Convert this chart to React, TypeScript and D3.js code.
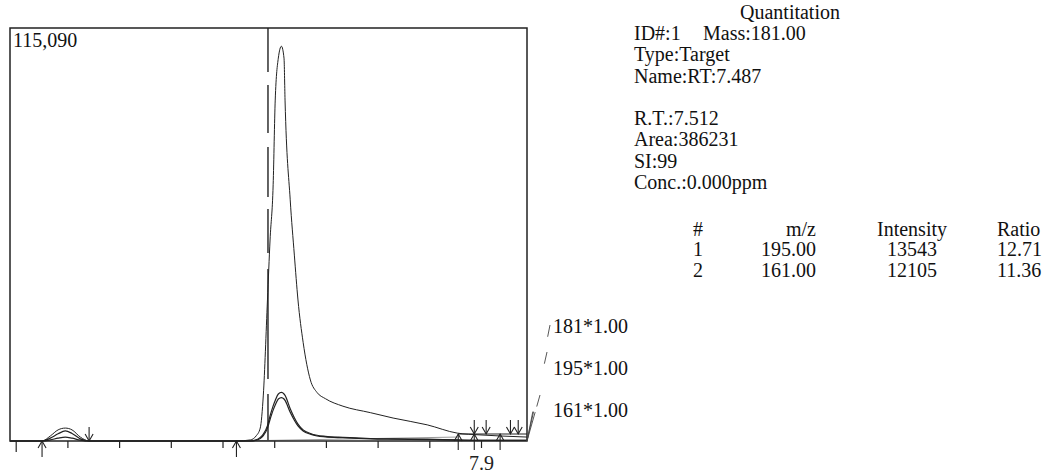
import React from "react";
import * as d3 from "d3";

// Retention times (min) shared by the three mass chromatograms
const times = [
  6.988, 7.027, 7.05, 7.066, 7.081, 7.095, 7.108, 7.124, 7.141, 7.201, 7.356,
  7.426, 7.453, 7.464, 7.472, 7.478, 7.486, 7.491, 7.497, 7.501, 7.507, 7.513,
  7.518, 7.52, 7.53, 7.538, 7.545, 7.555, 7.569, 7.582, 7.598, 7.632, 7.685,
  7.729, 7.795, 7.853, 7.897, 7.936, 7.988,
];

// m/z 181 (target ion)
const ion181 = [
  0, 0, 0, 1400, 3100, 3600, 3100, 1100, 0, 0, 0,
  0, 300, 1400, 3600, 12800, 39300, 56000, 71400, 95000, 106700, 110000,
  106700, 95000, 67200, 51800, 39300, 27500, 17000, 13500, 11800, 9700, 7900,
  6400, 4500, 2200, 1700, 1400, 1100,
];

// m/z 195 (reference ion 1)
const ion195 = [
  0, 0, 0, 800, 2000, 2800, 2100, 600, 0, 0, 0,
  0, 0, 300, 1000, 1900, 4300, 7000, 9800, 11300, 13100, 13543,
  13100, 12700, 9000, 6500, 4700, 3100, 2100, 1600, 1300, 1000, 700,
  600, 500, 300, 200, 200, 200,
];

// m/z 161 (reference ion 2)
const ion161 = [
  0, 0, 0, 300, 800, 1100, 800, 250, 0, 0, 0,
  0, 0, 200, 700, 1500, 3600, 6000, 8600, 10000, 11700, 12105,
  11700, 11300, 8000, 5800, 4200, 2800, 1900, 1400, 1150, 900, 600,
  500, 400, 250, 150, 150, 150,
];

const yMaxLabel = "115,090";
const yMax = 115090;
const xDomain = [6.988, 7.988];
const xTicks = [7.0, 7.1, 7.2, 7.3, 7.4, 7.5, 7.6, 7.7, 7.8, 7.9];
const xTickLabels = [{ t: 7.9, text: "7.9" }];
const expectedRT = 7.487;

// Integration start (up arrows) and end (down arrows) markers
const peakStarts = [
  { t: 7.05, level: 0 },
  { t: 7.426, level: 0 },
  { t: 7.855, level: 1950 },
  { t: 7.886, level: 1950 },
  { t: 7.936, level: 1950 },
];
const peakEnds = [
  { t: 7.141, level: 0 },
  { t: 7.886, level: 1950 },
  { t: 7.909, level: 1950 },
  { t: 7.956, level: 1950 },
  { t: 7.971, level: 1950 },
];
const integrationBaseline: [number, number][] = [
  [7.426, 0],
  [7.853, 1100],
];
const integrationBox: [number, number][] = [
  [7.855, 1950],
  [7.988, 1950],
];

const traceLabels = ["181*1.00", "195*1.00", "161*1.00"];

const infoLines = ["Type:Target", "Name:RT:7.487"];
const resultLines = ["R.T.:7.512", "Area:386231", "SI:99", "Conc.:0.000ppm"];

const tableHeader = ["#", "m/z", "Intensity", "Ratio"];
const tableRows = [
  ["1", "195.00", "13543", "12.71"],
  ["2", "161.00", "12105", "11.36"],
];

const FONT = "'Liberation Serif', 'Times New Roman', serif";

export default function App() {
  const left = 10;
  const right = 527;
  const top = 28;
  const bottom = 441;

  const x = d3.scaleLinear().domain(xDomain).range([left, right]);
  const y = d3.scaleLinear().domain([0, yMax]).range([bottom, top]);

  const line = d3
    .line<number>()
    .x((_, i) => x(times[i]))
    .y((d) => y(d))
    .curve(d3.curveMonotoneX);

  const segment = d3
    .line<[number, number]>()
    .x((d) => x(d[0]))
    .y((d) => y(d[1]));

  // leader lines from the lower-right corner to the trace labels
  const corner = [right, bottom];
  const leaderEnds = [
    [550, 325],
    [547, 352],
    [540, 395],
  ];

  const colX = [693, 816, 912, 997];
  const colAnchor = ["start", "end", "middle", "start"];

  return (
    <svg
      width={1055}
      height={476}
      style={{ position: "absolute", left: 0, top: 0, background: "#fff" }}
      fontFamily={FONT}
    >
      <rect x={0} y={0} width={1055} height={476} fill="#fff" />

      {/* expected retention time marker */}
      <line
        x1={x(expectedRT)}
        x2={x(expectedRT)}
        y1={top}
        y2={bottom}
        stroke="#222"
        strokeWidth={1.4}
        strokeDasharray="44 13 48 14 50 12 44 16 110 15 60"
      />

      {/* integration baseline */}
      <path d={segment(integrationBaseline) || ""} stroke="#999" strokeWidth={1} fill="none" />
      <path d={segment(integrationBox) || ""} stroke="#222" strokeWidth={1.2} fill="none" />

      {/* chromatograms */}
      <path d={line(ion161) || ""} fill="none" stroke="#222" strokeWidth={1.2} />
      <path d={line(ion195) || ""} fill="none" stroke="#222" strokeWidth={1.2} />
      <path d={line(ion181) || ""} fill="none" stroke="#222" strokeWidth={1} />

      {/* frame */}
      <rect
        x={left}
        y={top}
        width={right - left}
        height={bottom - top}
        fill="none"
        stroke="#222"
        strokeWidth={1.5}
      />

      {/* x ticks */}
      {xTicks.map((t, i) => (
        <line
          key={"tk" + i}
          x1={x(t)}
          x2={x(t)}
          y1={bottom}
          y2={bottom + (i === 0 ? 11 : 7)}
          stroke="#222"
          strokeWidth={1.2}
        />
      ))}
      {xTickLabels.map((d) => (
        <text key={d.text} x={x(d.t)} y={470} fontSize={20} textAnchor="middle" fill="#222">
          {d.text}
        </text>
      ))}

      {/* integration markers */}
      {peakStarts.map((d, i) => {
        const px = x(d.t);
        const py = y(d.level);
        return (
          <g key={"ps" + i} stroke="#222" strokeWidth={1.1} fill="none">
            <line x1={px} x2={px} y1={py} y2={py + 16} />
            <polyline points={`${px - 4},${py + 7} ${px},${py} ${px + 4},${py + 7}`} />
          </g>
        );
      })}
      {peakEnds.map((d, i) => {
        const px = x(d.t);
        const py = y(d.level);
        return (
          <g key={"pe" + i} stroke="#222" strokeWidth={1.1} fill="none">
            <line x1={px} x2={px} y1={py - 14} y2={py} />
            <polyline points={`${px - 4},${py - 7} ${px},${py} ${px + 4},${py - 7}`} />
          </g>
        );
      })}

      {/* y max label */}
      <text x={13} y={47} fontSize={20} fill="#111">
        {yMaxLabel}
      </text>

      {/* trace leaders and labels */}
      {leaderEnds.map((e, i) => {
        const len = Math.hypot(e[0] - corner[0], e[1] - corner[1]);
        return (
          <line
            key={"ld" + i}
            x1={corner[0]}
            y1={corner[1]}
            x2={e[0]}
            y2={e[1]}
            stroke="#444"
            strokeWidth={0.9}
            strokeDasharray={`30 ${Math.max(len - 42, 0)} 12`}
          />
        );
      })}
      {traceLabels.map((t, i) => (
        <text key={t} x={553} y={333 + i * 42} fontSize={20} fill="#111">
          {t}
        </text>
      ))}

      {/* quantitation info */}
      <g fontSize={20} fill="#111">
        <text x={790} y={19} textAnchor="middle">
          Quantitation
        </text>
        <text x={634} y={40}>
          ID#:1
        </text>
        <text x={703} y={40}>
          Mass:181.00
        </text>
        {infoLines.map((s, i) => (
          <text key={s} x={634} y={61 + i * 21.5}>
            {s}
          </text>
        ))}
        {resultLines.map((s, i) => (
          <text key={s} x={634} y={125 + i * 21.3}>
            {s}
          </text>
        ))}
        {tableHeader.map((s, j) => (
          <text key={"h" + j} x={colX[j]} y={236} textAnchor={colAnchor[j] as any}>
            {s}
          </text>
        ))}
        {tableRows.map((row, r) =>
          row.map((s, j) => (
            <text key={"r" + r + j} x={colX[j]} y={256 + r * 20.5} textAnchor={colAnchor[j] as any}>
              {s}
            </text>
          ))
        )}
      </g>
    </svg>
  );
}
